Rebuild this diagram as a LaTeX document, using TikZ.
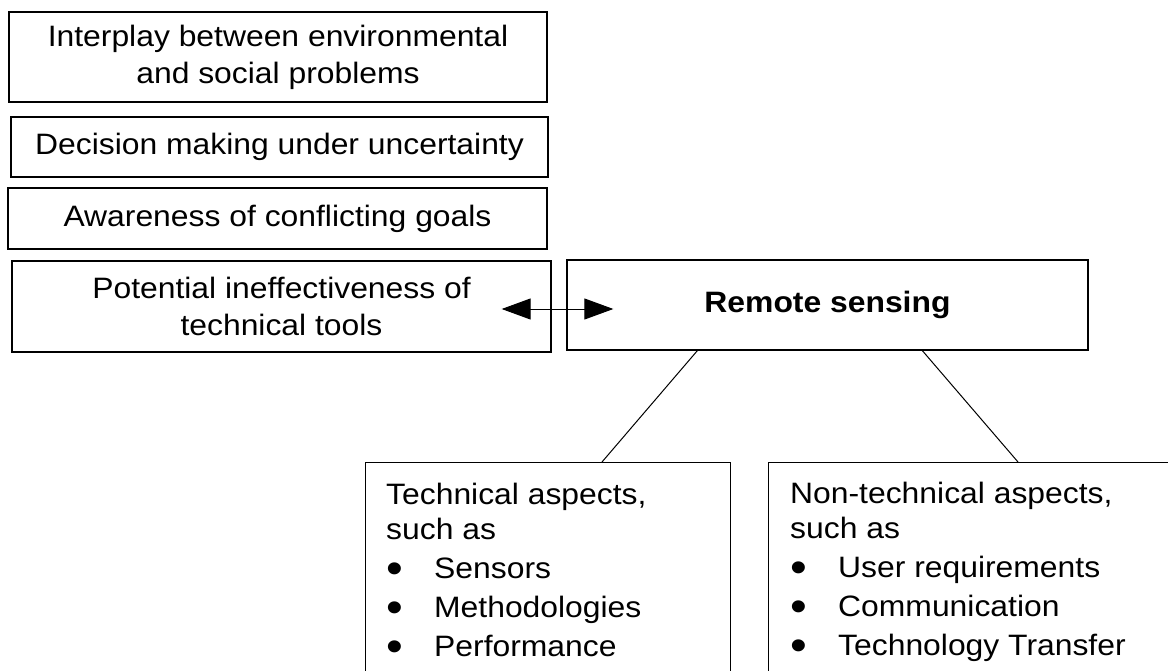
\documentclass[tikz,border=0pt]{standalone}
\usepackage{fontspec}
\setmainfont{Liberation Sans}[FakeStretch=1.08]
\usetikzlibrary{arrows.meta,calc}
\newcommand{\bulitem}{\makebox[48pt][l]{\smash{\raisebox{-5pt}{\scalebox{1.5}{•}}}}}
\begin{document}
\begin{tikzpicture}[x=1pt,y=-1pt,
  box/.style={draw, line width=1.3pt, inner sep=0pt, align=center,
              font=\fontsize{29.5}{37}\selectfont},
  openbox/.style={draw, line width=1.3pt, inner sep=0pt, anchor=north west},
  listtext/.style={inner sep=0pt, align=left, anchor=north west,
              font=\fontsize{29.5}{39}\selectfont},
  link/.style={line width=1pt},
  tip/.tip={Triangle[length=29pt,width=21pt]}]
\useasboundingbox (0,0) rectangle (1168,671);
\clip (0,0) rectangle (1168,671);

\node[box, minimum width=538pt, minimum height=90pt] (b1) at (278,57)
  {Interplay between environmental\\and social problems};
\node[box, minimum width=537pt, minimum height=60pt] (b2) at (279.5,147)
  {Decision making under uncertainty};
\node[box, minimum width=539pt, minimum height=61pt] (b3) at (277.5,218.5)
  {Awareness of conflicting goals};
\node[box, minimum width=539pt, minimum height=91pt] (b4) at (281.5,306.5)
  {Potential ineffectiveness of\\technical tools};
\node[box, minimum width=521pt, minimum height=90pt] (rs) at (827.5,305)
  {\bfseries Remote sensing};

\node[openbox, minimum width=365pt, minimum height=260pt] (tech) at (365,462) {};
\node[openbox, minimum width=412pt, minimum height=260pt] (nontech) at (768,462) {};

\node[listtext] (techtext) at (386,483)
  {Technical aspects,\\[-4pt]such as\\\bulitem Sensors\\\bulitem Methodologies\\\bulitem Performance};
\node[listtext] (nontechtext) at (790,482)
  {Non-technical aspects,\\[-4pt]such as\\\bulitem User requirements\\\bulitem Communication\\\bulitem Technology Transfer};

\coordinate (aL) at ($(b4.east)+(-50,2.5)$);
\coordinate (aR) at ($(rs.west)+(47,4)$);
\draw[link, {tip}-{tip}] (aL) -- (aR);

\draw[link] ($(rs.south west)+(131,0)$) -- ($(tech.north west)+(237,0)$);
\draw[link] ($(rs.south west)+(356,0)$) -- ($(nontech.north west)+(250,0)$);
\end{tikzpicture}
\end{document}
